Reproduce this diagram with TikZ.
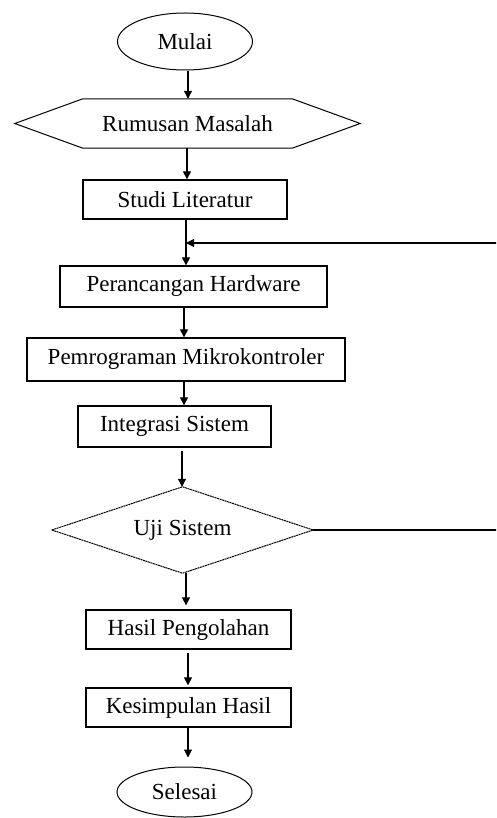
\documentclass[tikz,border=0pt]{standalone}
\usepackage{fontspec}
\setmainfont{Liberation Serif}
\usetikzlibrary{shapes.geometric,arrows.meta}
\begin{document}
\begin{tikzpicture}[x=1pt,y=-1pt,
  lbl/.style={font=\fontsize{23}{27}\selectfont, inner sep=0pt},
  procbox/.style={lbl, draw, rectangle, line width=1.3pt},
  term/.style={lbl, draw, ellipse, line width=1pt},
  shp/.style={line width=1pt},
  arr/.style={-{Triangle[length=8pt,width=8pt]}, line width=1.1pt},
  ln/.style={line width=1.1pt}]
\useasboundingbox (0,0) rectangle (496,818);
\clip (0,0) rectangle (496,818);

\node[term, minimum width=135pt, minimum height=57pt] (mulai) at (185,41.5) {Mulai};
\node[lbl, minimum width=345pt, minimum height=49pt] (hex) at (187.5,123.5) {Rumusan Masalah};
\draw[shp] ([xshift=68pt]hex.north west) -- ([xshift=-68pt]hex.north east) -- (hex.east)
  -- ([xshift=-68pt]hex.south east) -- ([xshift=68pt]hex.south west) -- (hex.west) -- cycle;
\node[procbox, minimum width=204pt, minimum height=39pt] (studi) at (185,199.5) {Studi Literatur};
\node[procbox, minimum width=267pt, minimum height=41pt] (per) at (193.5,286.5) {Perancangan Hardware};
\node[procbox, minimum width=318pt, minimum height=43pt] (pem) at (186,359.5) {Pemrograman Mikrokontroler};
\node[procbox, minimum width=193pt, minimum height=41pt] (integ) at (174.5,426.5) {Integrasi Sistem};
\node[lbl, minimum width=261pt, minimum height=86pt] (uji) at (182.5,530) {Uji Sistem};
\draw[shp, dash pattern=on 2pt off 0.6pt] (uji.west) -- (uji.north) -- (uji.east) -- (uji.south) -- cycle;
\node[procbox, minimum width=205pt, minimum height=39pt] (hasil) at (188.5,629.5) {Hasil Pengolahan};
\node[procbox, minimum width=205pt, minimum height=39pt] (kes) at (188.5,707.5) {Kesimpulan Hasil};
\node[term, minimum width=135pt, minimum height=50pt] (selesai) at (184.5,792) {Selesai};

\coordinate (ms) at (188,71);
\draw[arr] (ms) -- (ms |- hex.north);
\coordinate (hs) at (187,148);
\draw[arr] (hs) -- (hs |- studi.north);
\coordinate (ss) at (186,220);
\coordinate (join) at (186,243);
\draw[arr] (ss) -- (ss |- per.north);
\coordinate (ps) at (184,307);
\draw[arr] (ps) -- (ps |- pem.north);
\coordinate (pms) at (184,381);
\draw[arr] (pms) -- (pms |- integ.north);
\coordinate (is) at (182,451);
\draw[arr] (is) -- (is |- uji.north);
\coordinate (us) at (186,573);
\draw[arr, shorten >=4pt] (us) -- (us |- hasil.north);
\coordinate (hss) at (188,653);
\draw[arr, shorten >=2pt] (hss) -- (hss |- kes.north);
\coordinate (ks) at (188,727);
\draw[arr, shorten >=9pt] (ks) -- (ks |- selesai.north);

\coordinate (rt) at (510,243);
\draw[ln] (uji.east) -- (uji.east -| rt) -- (rt);
\draw[arr] (rt) -- (join);
\end{tikzpicture}
\end{document}
